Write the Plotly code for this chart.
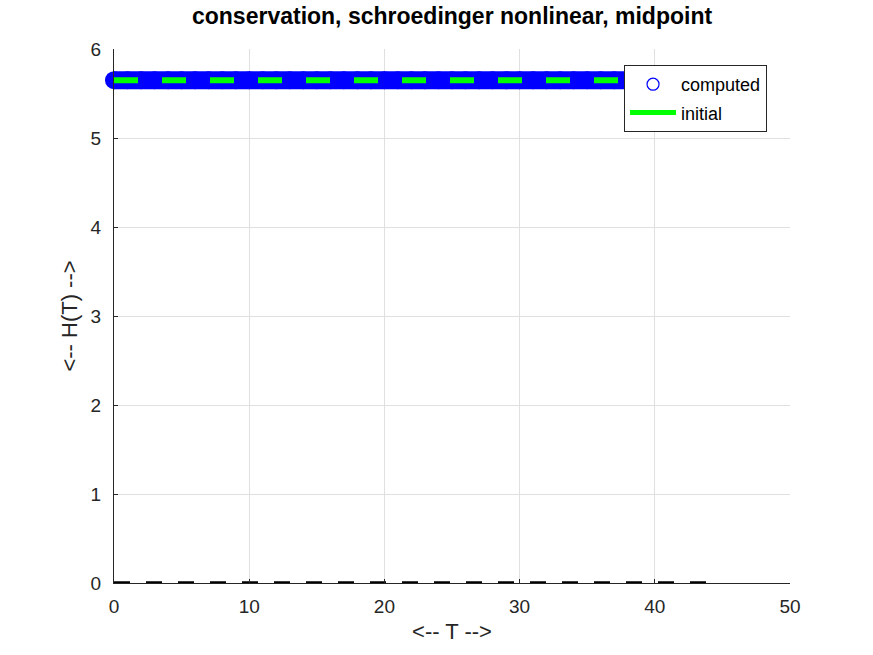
import plotly.graph_objects as go

# data
T = [0, 1, 2, 3, 4, 5, 6, 7, 8, 9, 10, 11, 12, 13, 14, 15, 16, 17, 18, 19, 20,
     21, 22, 23, 24, 25, 26, 27, 28, 29, 30, 31, 32, 33, 34, 35, 36, 37, 38, 39,
     40, 41, 42, 43, 44]
H_computed = [5.65] * len(T)
T_initial = [0, 44]
H_initial = [5.65, 5.65]
T_zero = [0, 43.9]
H_zero = [0, 0]

x_ticks = [0, 10, 20, 30, 40, 50]
y_ticks = [0, 1, 2, 3, 4, 5, 6]

FONT = "Liberation Sans, Arial, sans-serif"

fig = go.Figure()
fig.add_trace(go.Scatter(
    x=T, y=H_computed, mode="lines+markers", showlegend=False,
    line=dict(color="#0000ff", width=18),
    marker=dict(symbol="circle", size=18, color="#0000ff"),
    cliponaxis=False,
))
fig.add_trace(go.Scatter(
    x=T_initial, y=H_initial, mode="lines", showlegend=False,
    line=dict(color="#00ff00", width=6, dash="24px,24px"),
))
fig.add_trace(go.Scatter(
    x=T_zero, y=H_zero, mode="lines", showlegend=False,
    line=dict(color="#000000", width=3.5, dash="16px,16px"),
    cliponaxis=False,
))
# legend entries
fig.add_trace(go.Scatter(
    x=[None], y=[None], mode="markers", name="computed", legendgroup="a",
    marker=dict(symbol="circle-open", size=12, color="#0000ff", line=dict(width=1.2)),
))
fig.add_trace(go.Scatter(
    x=[None], y=[None], mode="lines", name="initial", legendgroup="b",
    line=dict(color="#00ff00", width=5),
))

fig.update_layout(
    width=873, height=655,
    margin=dict(l=114, r=83, t=49, b=72),
    paper_bgcolor="white", plot_bgcolor="white",
    font=dict(family=FONT, size=16, color="#262626"),
    title=dict(text="<b>conservation, schroedinger nonlinear, midpoint</b>",
               x=0.5178, xanchor="center", y=0.9756, yanchor="middle",
               font=dict(family=FONT, size=23, color="#000000")),
    xaxis=dict(range=[0, 50], tickvals=x_ticks, showgrid=True, gridcolor="#e0e0e0",
               showline=True, linecolor="#262626", linewidth=1,
               ticks="inside", ticklen=4, tickcolor="#262626",
               zeroline=False, mirror=False, ticklabelstandoff=6,
               title=dict(text="<-- T -->", font=dict(size=22), standoff=7),
               tickfont=dict(size=19)),
    yaxis=dict(range=[0, 6], tickvals=y_ticks, showgrid=True, gridcolor="#e0e0e0",
               showline=True, linecolor="#262626", linewidth=1,
               ticks="inside", ticklen=4, tickcolor="#262626",
               zeroline=False, mirror=False, ticklabelstandoff=8,
               title=dict(text="<-- H(T) -->", font=dict(size=22), standoff=6),
               tickfont=dict(size=19)),
    legend=dict(x=0.7545, y=0.97, xanchor="left", yanchor="top",
                bgcolor="white", bordercolor="#262626", borderwidth=1,
                font=dict(size=18, color="#000000"), itemwidth=46,
                tracegroupgap=2),
)

fig.write_html("out.html", config={"displayModeBar": False},
               post_script="document.body.style.margin='0';")
